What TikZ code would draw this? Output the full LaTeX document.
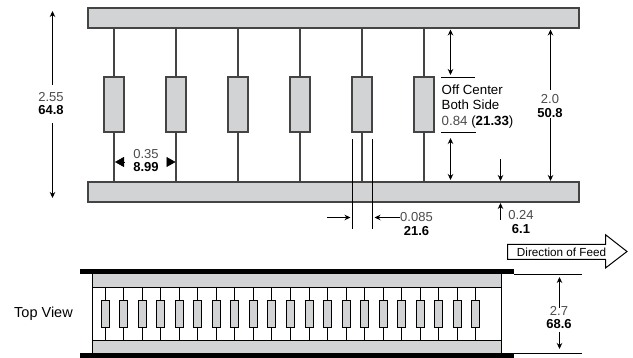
\documentclass[tikz,border=0pt]{standalone}
\usepackage{fontspec}
\setmainfont{Liberation Sans}
\usetikzlibrary{arrows.meta,positioning}
\definecolor{partgray}{HTML}{D1D3D4}
\definecolor{numgray}{HTML}{4A4A4A}
\definecolor{linegray}{HTML}{444444}
\newcommand{\dimpair}[2]{{\color{numgray}#1}\\[0pt]\textbf{#2}}
\tikzset{
  x=1pt,y=-1pt,
  part/.style={draw=linegray,fill=partgray,line width=1.8pt,inner sep=0,outer sep=0,minimum width=#1},
  lead/.style={draw=linegray,line width=1.8pt},
  minipart/.style={draw=black,fill=partgray,line width=1.25pt,inner sep=0,outer sep=0,minimum width=8pt,minimum height=27pt},
  minilead/.style={draw=black,line width=1.25pt},
  dimline/.style={draw=black,line width=1pt},
  dimarrow/.style={draw=black,line width=1pt,{Stealth[length=6pt,width=5.5pt]}-{Stealth[length=6pt,width=5.5pt]}},
  onearrow/.style={draw=black,line width=1pt,-{Stealth[length=6pt,width=5.5pt]}},
  bigarrow/.style={draw=black,line width=0.5pt,-{Triangle[length=9pt,width=10pt]}},
  dimtext/.style={align=center,font=\fontsize{13}{13.5}\selectfont,inner sep=0},
  lefttext/.style={align=left,anchor=west,font=\fontsize{13.3}{15.5}\selectfont,inner sep=0},
  rail/.style={fill=black,draw=none},
}
\begin{document}
\begin{tikzpicture}
\useasboundingbox (0,0) rectangle (633,358);
% --- side view ---
\path[part=0pt] (88,8) rectangle (579,28);
\path[part=0pt] (88,182) rectangle (579,202);
\foreach \i/\xx in {1/114,2/176,3/238,4/300,5/362,6/424}{
  \coordinate (t\i) at (\xx,28);
  \coordinate (b\i) at (\xx,182);
  \node[part=20pt,minimum height=55pt] (c\i) at (\xx,104.5) {};
  \draw[lead] (t\i) -- (c\i.north);
  \draw[lead] (c\i.south) -- (b\i);
}
% overall height
\node[dimtext] (h255) at (51,103.5) {\dimpair{2.55}{64.8}};
\coordinate (h255t) at (52.5,11);
\coordinate (h255b) at (52.5,198);
\draw[onearrow] (52.5,85) -- (h255t);
\draw[onearrow] (52.5,123) -- (h255b);
% pitch
\node[dimtext] (p035) at (146,160.5) {\dimpair{0.35}{8.99}};
\coordinate (p1) at (115,162);
\coordinate (p2) at (175.5,162);
\draw[bigarrow] (124.5,162) -- (p1);
\draw[bigarrow] (166.5,162) -- (p2);
% off centre
\coordinate (oc1l) at (441,77.5);
\coordinate (oc1r) at (475,77.5);
\coordinate (oc2l) at (441,132.5);
\coordinate (oc2r) at (476,132.5);
\draw[dimline] (oc1l) -- (oc1r);
\draw[dimline] (oc2l) -- (oc2r);
\draw[dimarrow] (450.5,29.5) -- (450.5,75);
\draw[dimarrow] (450.5,138) -- (450.5,180);
\node[lefttext] (offc) at (441.5,106.5) {Off Center\\Both Side\\{\color{numgray}0.84} (\textbf{21.33})};
% 2.0
\node[dimtext] (h20) at (550,106) {\dimpair{2.0}{50.8}};
\draw[onearrow] (550.5,90) -- (550.5,29.5);
\draw[onearrow] (550.5,118) -- (550.5,181);
% 0.24
\draw[onearrow] (500.5,159) -- (500.5,181);
\draw[onearrow] (500.5,220) -- (500.5,203);
\node[dimtext] (t024) at (521,222) {\dimpair{0.24}{6.1}};
% lead width
\draw[dimline] (352.5,139) -- (352.5,229);
\draw[dimline] (372.5,139) -- (372.5,229);
\draw[onearrow] (327,217.5) -- (350.5,217.5);
\node[dimtext] (t085) at (416.5,224) {\dimpair{0.085}{21.6}};
\draw[onearrow] (399.5,217.5) -- (374.5,217.5);
% direction of feed
\draw[draw=black,fill=white,line width=1pt] (507.5,244.5) -- (605.5,244.5) -- (605.5,234.7) -- (627,251.5) -- (605.5,268) -- (605.5,259.5) -- (507.5,259.5) -- cycle;
\node[font=\fontsize{11.7}{12}\selectfont,inner sep=0] (feed) at (561.5,252) {Direction of Feed};
% --- top view ---
\node[font=\fontsize{14.5}{15}\selectfont,inner sep=0] (topview) at (43.5,313.5) {Top View};
\path[fill=partgray] (92.5,274) rectangle (501.5,287.5);
\path[fill=partgray] (92.5,340.5) rectangle (501.5,353);
\draw[minilead] (92.5,287.5) -- (501.5,287.5);
\draw[minilead] (92.5,340.5) -- (501.5,340.5);
\foreach \i in {0,...,20}{
  \pgfmathsetmacro{\xx}{floor(105.3+18.52*\i)+0.5}
  \coordinate (tt\i) at (\xx,287.5);
  \coordinate (tb\i) at (\xx,340.5);
  \node[minipart] (tc\i) at (\xx,314) {};
  \draw[minilead] (tt\i) -- (tc\i.north);
  \draw[minilead] (tc\i.south) -- (tb\i);
}
\draw[minilead] (92.5,269) -- (92.5,353);
\draw[minilead] (501.5,269) -- (501.5,353);
\path[rail] (80,269) rectangle (514,274);
\path[rail] (80,353) rectangle (514,358);
% 2.7
\draw[dimline] (514,274.5) -- (582,274.5);
\draw[dimline] (514,353.5) -- (582,353.5);
\node[dimtext] (h27) at (559,317.5) {\dimpair{2.7}{68.6}};
\draw[onearrow] (559.5,308) -- (559.5,277);
\draw[onearrow] (559.5,332) -- (559.5,349);
\end{tikzpicture}
\end{document}
